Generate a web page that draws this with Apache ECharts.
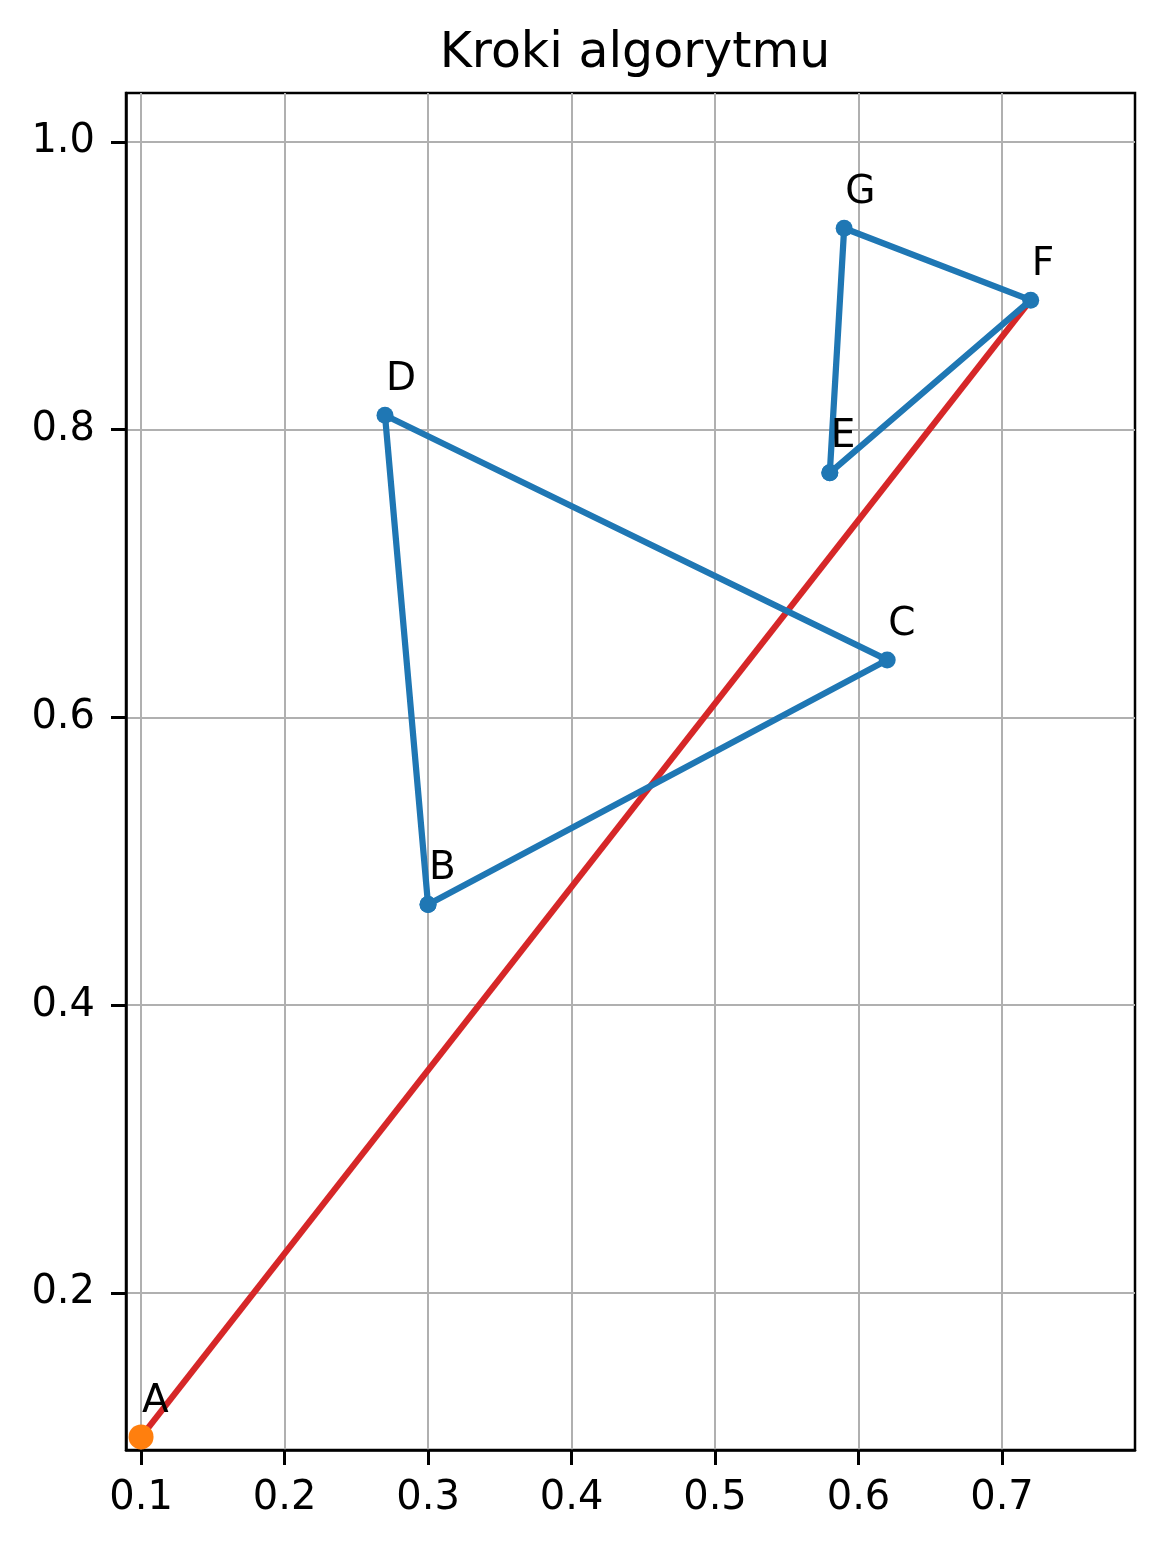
<!DOCTYPE html>
<html><head><meta charset="utf-8">
<script src="https://cdn.jsdelivr.net/npm/echarts@6/dist/echarts.min.js"></script>
<style>html,body{margin:0;padding:0;background:#fff}#c{width:1166px;height:1553px}</style>
</head><body><div id="c"></div>
<script>
const pointNames = ['A','B','C','D','E','F','G'];
const pointX = [0.10, 0.30, 0.62, 0.27, 0.58, 0.72, 0.59];
const pointY = [0.10, 0.47, 0.64, 0.81, 0.77, 0.89, 0.94];
const bluePath1 = ['B','C','D','B'];
const bluePath2 = ['E','F','G','E'];
const redPath = ['A','F'];
const startPoint = ['A'];
const xTicks = [0.1,0.2,0.3,0.4,0.5,0.6,0.7];
const yTicks = [0.2,0.4,0.6,0.8,1.0];
const xRange = [0.0895, 0.7927];
const yRange = [0.0909, 1.034];
const titleText = 'Kroki algorytmu';

const pt = n => { const i = pointNames.indexOf(n); return [pointX[i], pointY[i]]; };
const FONT = 'DejaVu Sans';
const chart = echarts.init(document.getElementById('c'), null, {renderer:'canvas'});
const gridLine = {show:true, lineStyle:{color:'#b0b0b0', width:2}};
chart.setOption({
  animation:false,
  title:{text:titleText, left:630, top:25, textAlign:'center',
    textStyle:{fontFamily:FONT, fontSize:49, fontWeight:'normal', color:'#000'}},
  grid:{left:126, right:31, top:93, bottom:103, show:true, borderColor:'#000', borderWidth:2.5, backgroundColor:'transparent'},
  xAxis:{type:'value', min:xRange[0], max:xRange[1],
    axisLine:{show:true, lineStyle:{color:'#000', width:2.5}},
    axisTick:{show:true, customValues:xTicks, length:15, lineStyle:{color:'#000', width:3}},
    axisLabel:{customValues:xTicks, margin:29, color:'#000', fontFamily:FONT, fontSize:40, formatter:v=>v.toFixed(1)},
    splitLine:Object.assign({customValues:xTicks}, gridLine)},
  yAxis:{type:'value', min:yRange[0], max:yRange[1],
    axisLine:{show:true, lineStyle:{color:'#000', width:2.5}},
    axisTick:{show:true, customValues:yTicks, length:15, lineStyle:{color:'#000', width:3}},
    axisLabel:{customValues:yTicks, margin:31, color:'#000', fontFamily:FONT, fontSize:40, formatter:v=>v.toFixed(1)},
    splitLine:Object.assign({customValues:yTicks}, gridLine)},
  series:[
    {type:'line', data:redPath.map(pt), symbol:'none', lineStyle:{color:'#d62728', width:6.25}, z:2},
    {type:'line', data:bluePath1.map(pt), symbol:'circle', symbolSize:17, showAllSymbol:true,
      itemStyle:{color:'#1f77b4'}, lineStyle:{color:'#1f77b4', width:6.25}, z:3},
    {type:'line', data:bluePath2.map(pt), symbol:'circle', symbolSize:17, showAllSymbol:true,
      itemStyle:{color:'#1f77b4'}, lineStyle:{color:'#1f77b4', width:6.25}, z:3},
    {type:'scatter', data:startPoint.map(pt), symbol:'circle', symbolSize:25, itemStyle:{color:'#ff7f0e', opacity:1}, z:4},
    {type:'scatter', data:pointNames.map((n,i)=>({value:[pointX[i],pointY[i]], name:n})), symbolSize:1,
      itemStyle:{color:'rgba(0,0,0,0)', opacity:1}, z:5,
      label:{show:true, position:'inside', align:'left', verticalAlign:'bottom', offset:[1,-16],
        formatter:p=>p.name, color:'#000', opacity:1, fontFamily:FONT, fontSize:39}}
  ]
});
</script></body></html>
